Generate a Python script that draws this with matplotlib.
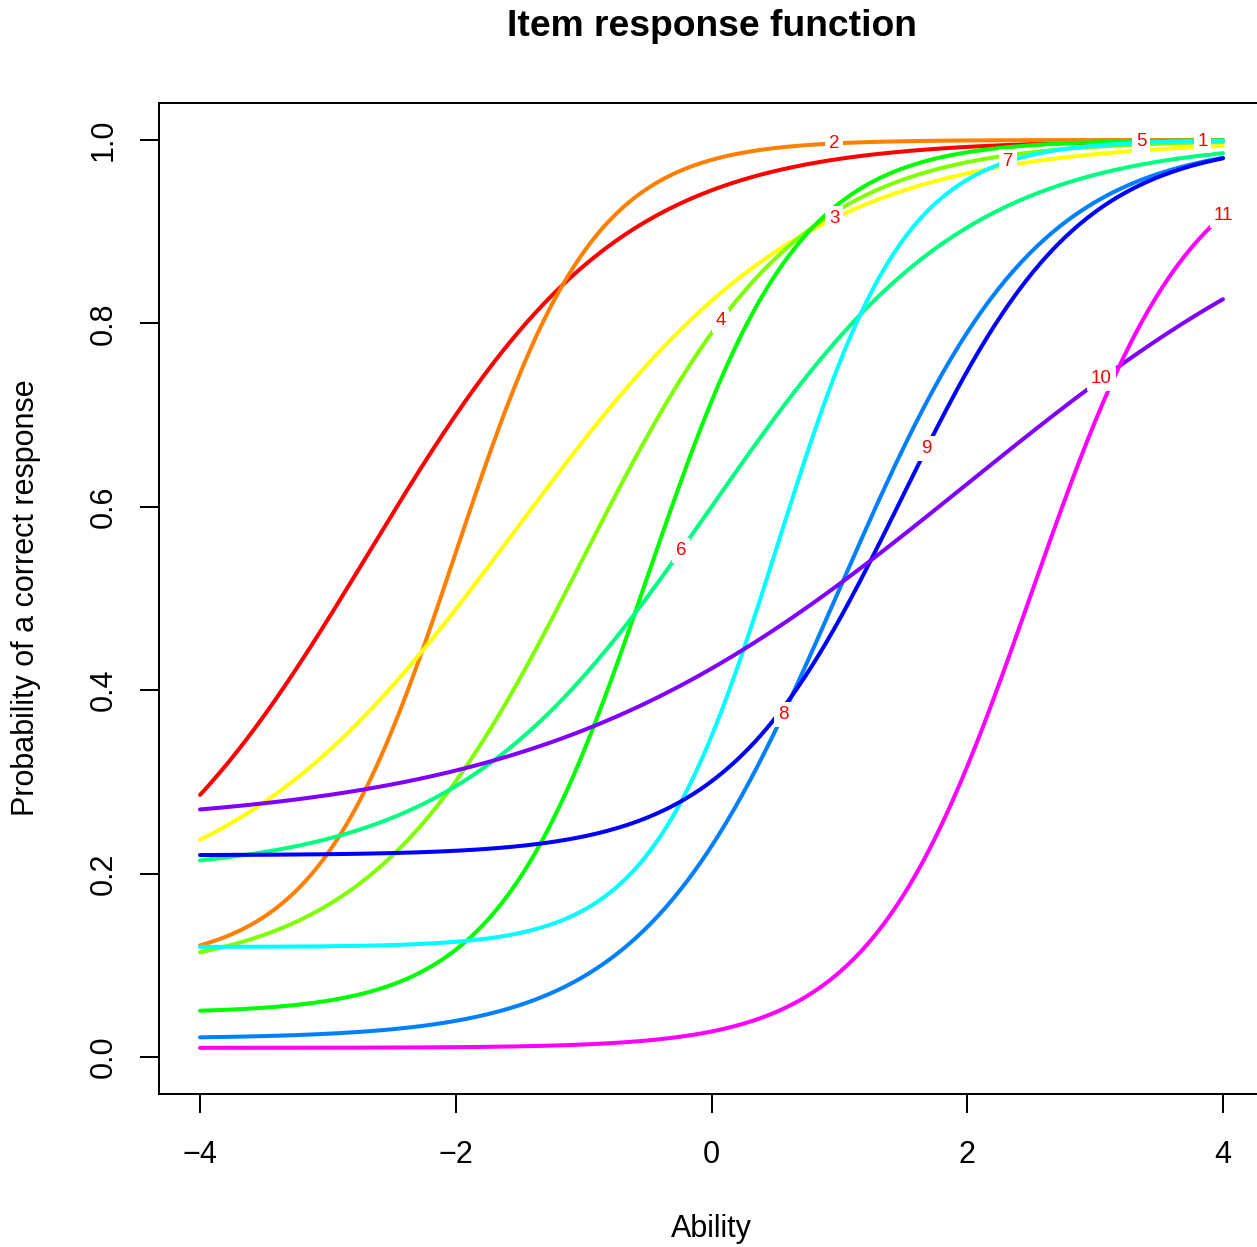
import numpy as np
import matplotlib
matplotlib.use("Agg")
from matplotlib import pyplot as plt

# 3PL item parameters (discrimination, difficulty, guessing)
item_a = [1.02, 1.85, 0.88, 1.20, 1.70, 1.00, 2.00, 1.30, 1.45, 0.60, 1.60]
item_b = [-2.68, -2.00, -1.53, -1.00, -0.50, 0.00, 0.52, 1.00, 1.49, 2.00, 2.50]
item_c = [0.10, 0.10, 0.15, 0.09, 0.048, 0.20, 0.12, 0.02, 0.22, 0.25, 0.01]
# ability where each item number is written on its curve
label_theta = [3.84, 0.96, 0.96, 0.07, 3.36, -0.24, 2.32, 0.56, 1.68, 3.05, 4.0]
colors = ["#FF0000", "#FF8000", "#FFFF00", "#80FF00", "#00FF00", "#00FF80",
          "#00FFFF", "#0080FF", "#0000FF", "#8000FF", "#FF00FF"]
x_ticks = [-4, -2, 0, 2, 4]
y_ticks = [0.0, 0.2, 0.4, 0.6, 0.8, 1.0]

plt.rcParams["font.family"] = ["Liberation Sans", "DejaVu Sans"]


def irf(theta, a, b, c):
    return c + (1 - c) / (1 + np.exp(-a * (theta - b)))


W, H = 1257, 1247
fig = plt.figure(figsize=(W / 100, H / 100), dpi=100)
# plot region: part of the box falls off the right edge, as in the reference
ax = fig.add_axes([159.1 / W, (H - 1093.7) / H, (1263.9 - 159.1) / W, (1093.7 - 103.3) / H])
ax.set_xlim(-4.32, 4.32)
ax.set_ylim(-0.04, 1.04)

theta = np.linspace(-4, 4, 401)
for i in range(len(item_a)):
    ax.plot(theta, irf(theta, item_a[i], item_b[i], item_c[i]), color=colors[i],
            lw=2.9, solid_capstyle="round", zorder=2 + i * 0.01)

for i, t in enumerate(label_theta):
    ax.text(t, irf(t, item_a[i], item_b[i], item_c[i]), str(i + 1), color="red",
            fontsize=13.5, ha="center", va="center", zorder=5,
            bbox=dict(boxstyle="square,pad=0.2", fc="white", ec="none"))

for s in ax.spines.values():
    s.set_linewidth(1.44)
ax.set_xticks(x_ticks)
ax.set_xticklabels([str(v).replace("-", "\u2212") for v in x_ticks])
ax.set_yticks(y_ticks)
ax.set_yticklabels([f"{v:.1f}" for v in y_ticks], rotation=90, va="center")
ax.tick_params(direction="out", length=14, width=1.44, labelsize=22)
ax.tick_params(axis="x", pad=19)
ax.tick_params(axis="y", pad=15)

cx = 711.5 / W
fig.text(cx, 1 - 26 / H, "Item response function", fontsize=26.8, fontweight="bold",
         ha="center", va="center")
fig.text(cx, 1 - 1229 / H, "Ability", fontsize=22, ha="center", va="center")
fig.text(26 / W, 1 - 598 / H, "Probability of a correct response", fontsize=22,
         rotation=90, ha="center", va="center")

fig.savefig("out.png", dpi=100)
